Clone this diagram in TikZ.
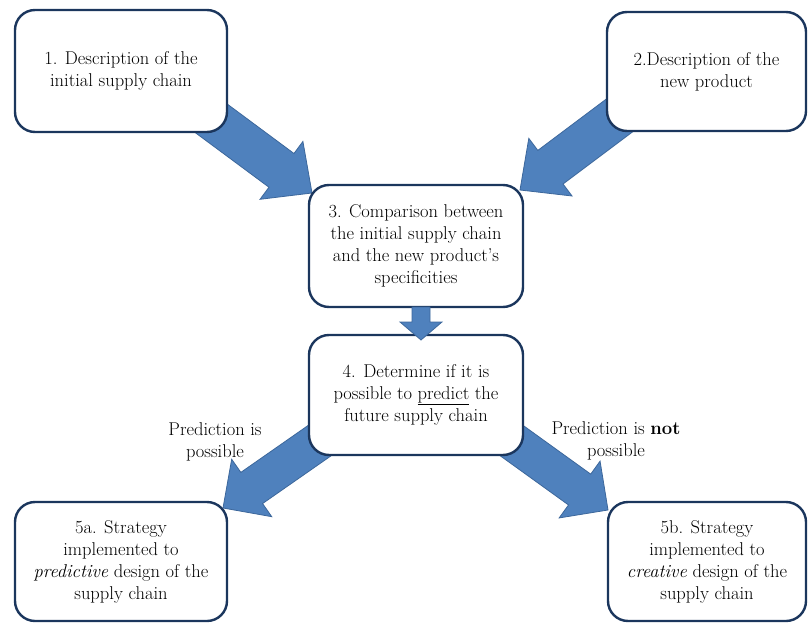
\documentclass[tikz,border=0pt]{standalone}
\usetikzlibrary{calc}
\definecolor{arrowfill}{HTML}{4F81BD}
\definecolor{arrowline}{HTML}{3C679B}
\definecolor{boxline}{HTML}{1B365D}
\tikzset{
  box/.style={draw=boxline, line width=2.4pt, rounded corners=20pt, fill=white,
    align=center, font=\fontsize{18.5}{22}\selectfont, inner sep=0pt},
  blockarrow/.style={fill=arrowfill, draw=arrowline, line width=0.8pt, line join=miter},
  lbl/.style={align=center, font=\fontsize{18.5}{22}\selectfont, inner sep=0pt}
}
% #1 start, #2 tip, #3 half shaft width, #4 half head width, #5 head length
\newcommand{\blockarr}[5]{%
  \coordinate (#1-hb) at ($(#2)!#5!(#1)$);
  \draw[blockarrow] ($(#1)!#3!90:(#2)$) -- ($(#1-hb)!#3!-90:(#1)$) -- ($(#1-hb)!#4!-90:(#1)$)
    -- (#2) -- ($(#1-hb)!#4!90:(#1)$) -- ($(#1-hb)!#3!90:(#1)$) -- ($(#1)!#3!-90:(#2)$) -- cycle;
}
\begin{document}
\begin{tikzpicture}[x=1pt, y=-1pt]
\useasboundingbox (0,0) rectangle (808,623);
% connector end points
\coordinate (s1) at (200,110);
\coordinate (t1) at (312,193);
\coordinate (s2) at (640,100);
\coordinate (t2) at (520,190);
\coordinate (s4a) at (342,425);
\coordinate (t4a) at (223,508);
\coordinate (s4b) at (490,425);
\coordinate (t4b) at (608,510);
\coordinate (s3) at (421,307);
\coordinate (t3) at (421,340);
% big arrows (behind the boxes)
\blockarr{s1}{t1}{21pt}{36pt}{38pt}
\blockarr{s2}{t2}{21pt}{36pt}{38pt}
\blockarr{s4a}{t4a}{19pt}{35pt}{35pt}
\blockarr{s4b}{t4b}{19pt}{35pt}{35pt}
% boxes
\node[box, minimum width=212pt, minimum height=122pt] (b1) at (121,71)
  {1. Description of the\\initial supply chain};
\node[box, minimum width=199pt, minimum height=119pt] (b2) at (706.5,71.5)
  {2.Description of the\\new product};
\node[box, minimum width=214pt, minimum height=122pt] (b3) at (416,246)
  {3. Comparison between\\the initial supply chain\\and the new product’s\\specificities};
\node[box, minimum width=214pt, minimum height=120pt] (b4) at (416,395)
  {4. Determine if it is\\possible to \underline{predict} the\\future supply chain};
\node[box, minimum width=212pt, minimum height=119pt] (b5a) at (121,561.5)
  {5a. Strategy\\implemented to\\\textit{predictive} design of the\\supply chain};
\node[box, minimum width=198pt, minimum height=119pt] (b5b) at (707,561.5)
  {5b. Strategy\\implemented to\\\textit{creative} design of the\\supply chain};
% small arrow between 3 and 4 (on top)
\blockarr{s3}{t3}{9pt}{21pt}{18pt}
% labels
\node[lbl] (l1) at (215,442) {Prediction is\\possible};
\node[lbl] (l2) at (616,441) {Prediction is \textbf{not}\\possible};
\end{tikzpicture}
\end{document}
